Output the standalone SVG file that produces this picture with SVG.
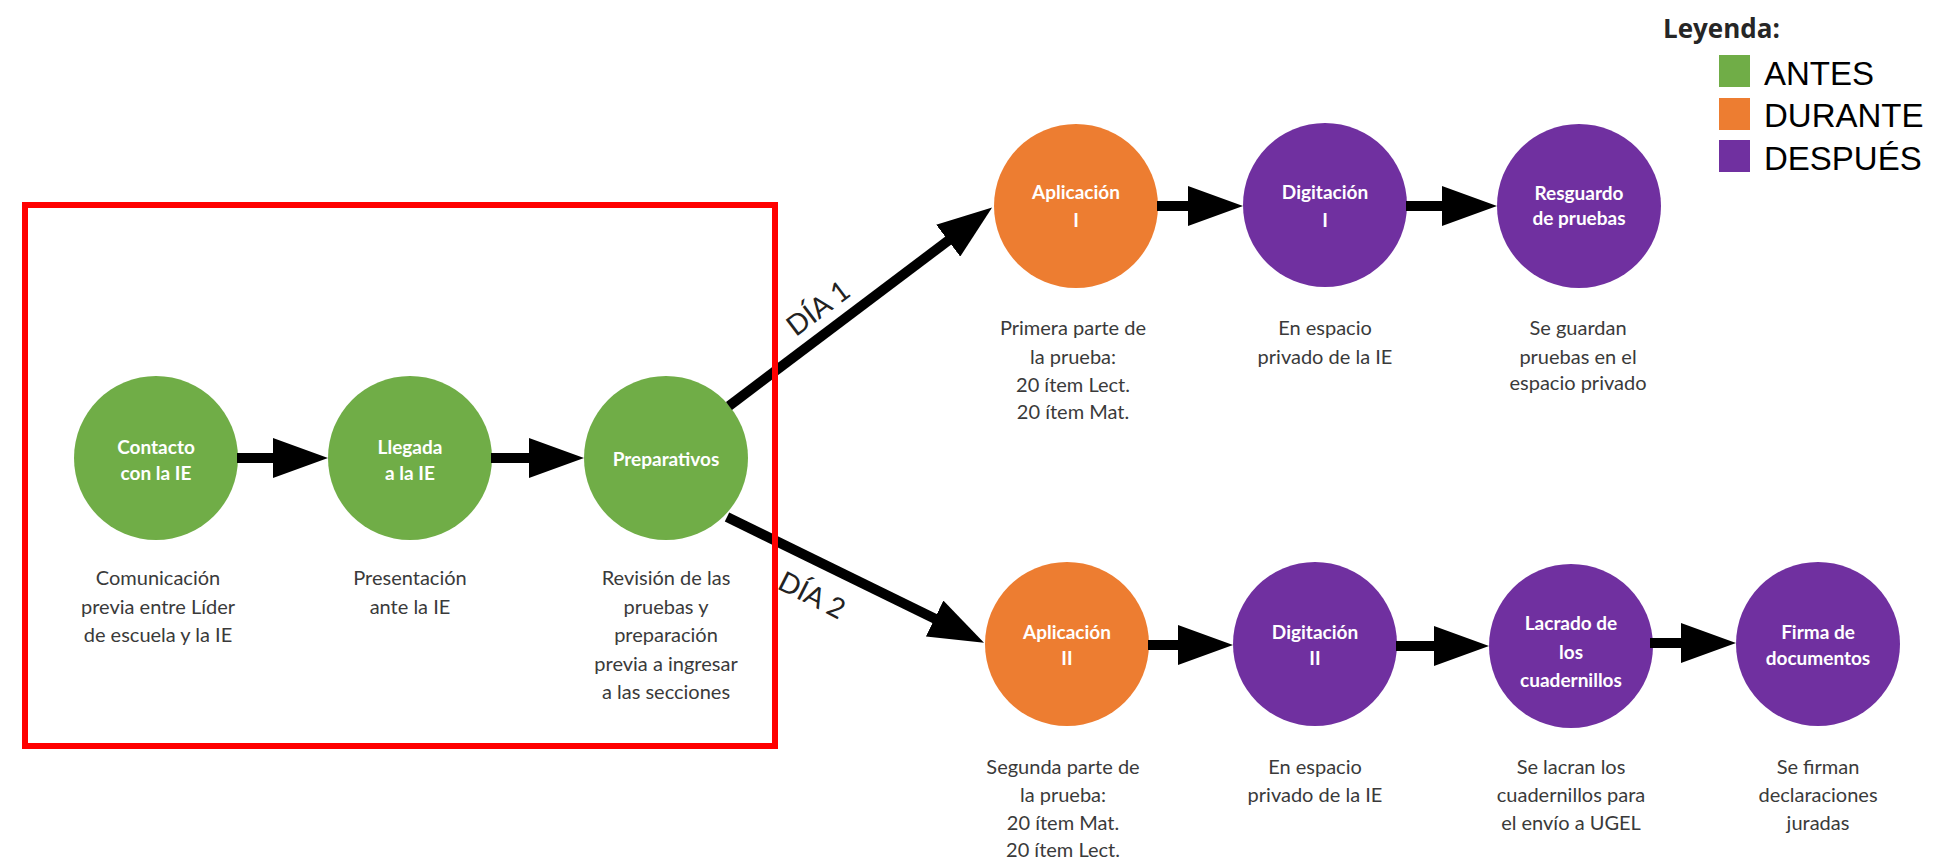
<svg xmlns="http://www.w3.org/2000/svg" width="1939" height="865" viewBox="0 0 1939 865">
<defs>
<style>
.bg{fill:#ffffff}
.g{fill:#70AD47}
.o{fill:#ED7D31}
.p{fill:#7030A0}
.lbl{font-family:Lato,"Open Sans",sans-serif;font-weight:bold;font-size:19px;fill:#ffffff;text-anchor:middle}
.desc{font-family:Lato,"Open Sans",sans-serif;font-size:20px;fill:#3a3a3a;text-anchor:middle}
.dia{font-family:Lato,"Open Sans",sans-serif;font-size:28px;fill:#222222;text-anchor:middle}
.leg{font-family:"Liberation Sans",Arial,sans-serif;font-size:33px;fill:#000000}
.legt{font-family:"Open Sans",Lato,sans-serif;font-weight:bold;font-size:26px;fill:#262626}
.conn{fill:none;stroke:#000000;stroke-width:10;marker-end:url(#ah)}
</style>
<marker id="ah" viewBox="0 -20 55 40" refX="1" refY="0" markerWidth="55" markerHeight="40" markerUnits="userSpaceOnUse" orient="auto">
<path d="M0,-20 L55,0 L0,20 Z" fill="#000000"/>
</marker>
</defs>
<rect class="bg" x="0" y="0" width="1939" height="865"/>

<g id="contacto">
<circle class="g" cx="156" cy="458" r="82"/>
<text class="lbl" x="156" y="454">Contacto</text>
<text class="lbl" x="156" y="480">con la IE</text>
<text class="desc" x="158" y="585">Comunicación</text>
<text class="desc" x="158" y="614">previa entre Líder</text>
<text class="desc" x="158" y="642">de escuela y la IE</text>
</g>

<g id="llegada">
<circle class="g" cx="410" cy="458" r="82"/>
<text class="lbl" x="410" y="454">Llegada</text>
<text class="lbl" x="410" y="480">a la IE</text>
<text class="desc" x="410" y="585">Presentación</text>
<text class="desc" x="410" y="614">ante la IE</text>
</g>

<g id="preparativos">
<circle class="g" cx="666" cy="458" r="82"/>
<text class="lbl" x="666" y="466">Preparativos</text>
<text class="desc" x="666" y="585">Revisión de las</text>
<text class="desc" x="666" y="614">pruebas y</text>
<text class="desc" x="666" y="642">preparación</text>
<text class="desc" x="666" y="671">previa a ingresar</text>
<text class="desc" x="666" y="699">a las secciones</text>
</g>

<g id="aplicacion1">
<circle class="o" cx="1076" cy="206" r="82"/>
<text class="lbl" x="1076" y="199">Aplicación</text>
<text class="lbl" x="1076" y="227">I</text>
<text class="desc" x="1073" y="335">Primera parte de</text>
<text class="desc" x="1073" y="364">la prueba:</text>
<text class="desc" x="1073" y="392">20 ítem Lect.</text>
<text class="desc" x="1073" y="419">20 ítem Mat.</text>
</g>

<g id="digitacion1">
<circle class="p" cx="1325" cy="205" r="82"/>
<text class="lbl" x="1325" y="199">Digitación</text>
<text class="lbl" x="1325" y="227">I</text>
<text class="desc" x="1325" y="335">En espacio</text>
<text class="desc" x="1325" y="364">privado de la IE</text>
</g>

<g id="resguardo">
<circle class="p" cx="1579" cy="206" r="82"/>
<text class="lbl" x="1579" y="200">Resguardo</text>
<text class="lbl" x="1579" y="225">de pruebas</text>
<text class="desc" x="1578" y="335">Se guardan</text>
<text class="desc" x="1578" y="364">pruebas en el</text>
<text class="desc" x="1578" y="390">espacio privado</text>
</g>

<g id="aplicacion2">
<circle class="o" cx="1067" cy="644" r="82"/>
<text class="lbl" x="1067" y="639">Aplicación</text>
<text class="lbl" x="1067" y="665">II</text>
<text class="desc" x="1063" y="774">Segunda parte de</text>
<text class="desc" x="1063" y="802">la prueba:</text>
<text class="desc" x="1063" y="830">20 ítem Mat.</text>
<text class="desc" x="1063" y="857">20 ítem Lect.</text>
</g>

<g id="digitacion2">
<circle class="p" cx="1315" cy="644" r="82"/>
<text class="lbl" x="1315" y="639">Digitación</text>
<text class="lbl" x="1315" y="665">II</text>
<text class="desc" x="1315" y="774">En espacio</text>
<text class="desc" x="1315" y="802">privado de la IE</text>
</g>

<g id="lacrado">
<circle class="p" cx="1571" cy="646" r="82"/>
<text class="lbl" x="1571" y="630">Lacrado de</text>
<text class="lbl" x="1571" y="659">los</text>
<text class="lbl" x="1571" y="687">cuadernillos</text>
<text class="desc" x="1571" y="774">Se lacran los</text>
<text class="desc" x="1571" y="802">cuadernillos para</text>
<text class="desc" x="1571" y="830">el envío a UGEL</text>
</g>

<g id="firma">
<circle class="p" cx="1818" cy="644" r="82"/>
<text class="lbl" x="1818" y="639">Firma de</text>
<text class="lbl" x="1818" y="665">documentos</text>
<text class="desc" x="1818" y="774">Se firman</text>
<text class="desc" x="1818" y="802">declaraciones</text>
<text class="desc" x="1818" y="830">juradas</text>
</g>

<g id="connectors">
<path class="conn" d="M237,458 H274"/>
<path class="conn" d="M491,458 H530"/>
<path class="conn" d="M729,406 L949,240"/>
<path class="conn" d="M727,517 L935.5,619"/>
<path class="conn" d="M1157,206 H1189"/>
<path class="conn" d="M1406,206 H1443"/>
<path class="conn" d="M1148,645 H1179"/>
<path class="conn" d="M1396,646 H1435"/>
<path class="conn" d="M1650,643 H1682"/>
<text class="dia" transform="translate(818,308) rotate(-37)" x="0" y="10">DÍA 1</text>
<text class="dia" transform="translate(812,595) rotate(27)" x="0" y="10">DÍA 2</text>
</g>

<g id="legend">
<text class="legt" x="1663" y="38">Leyenda:</text>
<rect class="g" x="1719" y="55" width="31" height="32"/>
<text class="leg" x="1764" y="85">ANTES</text>
<rect class="o" x="1719" y="98" width="31" height="32"/>
<text class="leg" x="1764" y="127">DURANTE</text>
<rect class="p" x="1719" y="140" width="31" height="32"/>
<text class="leg" x="1764" y="170">DESPUÉS</text>
</g>

<g id="highlight">
<rect x="25" y="205" width="750" height="541" fill="none" stroke="#ff0000" stroke-width="6"/>
</g>
</svg>
